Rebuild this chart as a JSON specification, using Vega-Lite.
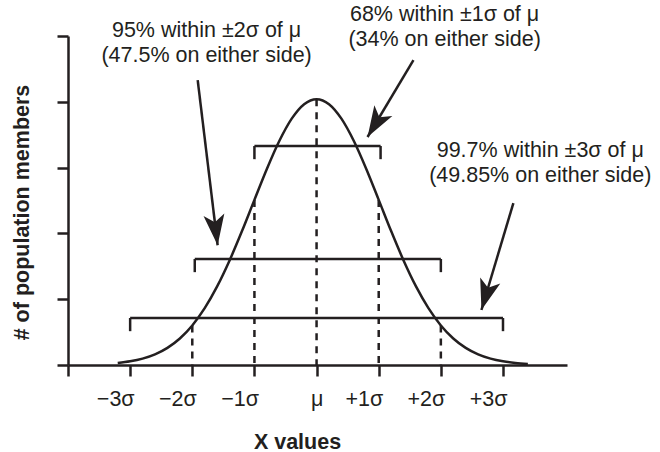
{
  "$schema": "https://vega.github.io/schema/vega-lite/v6.json",
  "width": 499,
  "height": 329,
  "autosize": "none",
  "padding": {"left": 68, "top": 36, "right": 93, "bottom": 87},
  "background": "white",
  "config": {
    "view": {"stroke": null},
    "font": "Liberation Sans",
    "axis": {
      "grid": false,
      "domainColor": "#231f20",
      "tickColor": "#231f20",
      "labelColor": "#231f20",
      "titleColor": "#231f20",
      "domainWidth": 2.5,
      "tickWidth": 2.5,
      "tickSize": 11,
      "labelFont": "Liberation Sans",
      "titleFont": "Liberation Sans",
      "labelFontSize": 21.5,
      "titleFontSize": 21.5,
      "titleFontWeight": "bold"
    }
  },
  "datasets": {
    "curve": [
      {"x": -3.2, "y": 0.0308}, {"x": -3.0, "y": 0.0556}, {"x": -2.8, "y": 0.0966}, {"x": -2.6, "y": 0.1615},
      {"x": -2.4, "y": 0.2601}, {"x": -2.2, "y": 0.4031}, {"x": -2.0, "y": 0.6014}, {"x": -1.8, "y": 0.8637},
      {"x": -1.6, "y": 1.1939}, {"x": -1.4, "y": 1.5887}, {"x": -1.2, "y": 2.035}, {"x": -1.0, "y": 2.5094},
      {"x": -0.8, "y": 2.9787}, {"x": -0.6, "y": 3.4035}, {"x": -0.4, "y": 3.7436}, {"x": -0.2, "y": 3.9638},
      {"x": 0.0, "y": 4.04}, {"x": 0.2, "y": 3.9638}, {"x": 0.4, "y": 3.7436}, {"x": 0.6, "y": 3.4035},
      {"x": 0.8, "y": 2.9787}, {"x": 1.0, "y": 2.5094}, {"x": 1.2, "y": 2.035}, {"x": 1.4, "y": 1.5887},
      {"x": 1.6, "y": 1.1939}, {"x": 1.8, "y": 0.8637}, {"x": 2.0, "y": 0.6014}, {"x": 2.2, "y": 0.4031},
      {"x": 2.4, "y": 0.2601}, {"x": 2.6, "y": 0.1615}, {"x": 2.8, "y": 0.0966}, {"x": 3.0, "y": 0.0556},
      {"x": 3.2, "y": 0.0308}, {"x": 3.4, "y": 0.0164}
    ],
    "dashed": [
      {"x": -2, "top": 0.6014, "bottom": 0},
      {"x": -1, "top": 2.5094, "bottom": 0},
      {"x": 0, "top": 4.04, "bottom": 0},
      {"x": 1, "top": 2.5094, "bottom": 0},
      {"x": 2, "top": 0.6014, "bottom": 0}
    ],
    "segments": [
      {"x": -1, "y": 3.328, "x2": 1.03, "y2": 3.328},
      {"x": -1, "y": 3.328, "x2": -1, "y2": 3.128},
      {"x": 1.03, "y": 3.328, "x2": 1.03, "y2": 3.128},
      {"x": -1.96, "y": 1.611, "x2": 2, "y2": 1.611},
      {"x": -1.96, "y": 1.611, "x2": -1.96, "y2": 1.411},
      {"x": 2, "y": 1.611, "x2": 2, "y2": 1.411},
      {"x": -3, "y": 0.714, "x2": 3, "y2": 0.714},
      {"x": -3, "y": 0.714, "x2": -3, "y2": 0.514},
      {"x": 3, "y": 0.714, "x2": 3, "y2": 0.514},
      {"x": -1.913, "y": 4.33, "x2": -1.592, "y2": 1.82},
      {"x": 1.559, "y": 4.635, "x2": 0.82, "y2": 3.465},
      {"x": 3.167, "y": 2.46, "x2": 2.653, "y2": 0.836}
    ],
    "heads": [
      {"x": -1.592, "y": 1.82, "angle": 173.1},
      {"x": 0.82, "y": 3.465, "angle": 210.9},
      {"x": 2.653, "y": 0.836, "angle": 196.6}
    ],
    "notes": [
      {"x": -1.77, "y": 4.985, "label": "95% within ±2σ of μ\n(47.5% on either side)"},
      {"x": 2.06, "y": 5.228, "label": "68% within ±1σ of μ\n(34% on either side)"},
      {"x": 3.6, "y": 3.161, "label": "99.7% within ±3σ of μ\n(49.85% on either side)"}
    ]
  },
  "layer": [
    {
      "data": {"name": "curve"},
      "mark": {"type": "line", "color": "#231f20", "strokeWidth": 2.5, "interpolate": "monotone"},
      "encoding": {
        "x": {
          "field": "x", "type": "quantitative",
          "scale": {"domain": [-4, 4.03], "nice": false, "zero": false},
          "axis": {
            "values": [-4, -3, -2, -1, 0, 1, 2, 3],
            "labelExpr": "datum.value == -4 ? '' : datum.value == 0 ? 'μ' : datum.value < 0 ? '−' + abs(datum.value) + 'σ' : '+' + datum.value + 'σ'",
            "labelBaseline": "alphabetic",
            "labelPadding": 29,
            "labelAlign": {"condition": {"test": "datum.value == 0", "value": "center"}, "value": "right"},
            "labelOffset": {"condition": {"test": "datum.value == 0", "value": 0}, "value": 4},
            "title": "X values",
            "titleBaseline": "alphabetic",
            "titleAlign": "center",
            "titleX": 229,
            "titleY": 83
          }
        },
        "y": {
          "field": "y", "type": "quantitative",
          "scale": {"domain": [0, 5], "nice": false},
          "axis": {
            "values": [0, 1, 2, 3, 4, 5],
            "labels": false,
            "title": "# of population members",
            "titleBaseline": "alphabetic",
            "titleAlign": "center",
            "titleAngle": 270,
            "titleX": -40,
            "titleY": 176
          }
        }
      }
    },
    {
      "data": {"name": "dashed"},
      "mark": {"type": "rule", "color": "#231f20", "strokeWidth": 2.5, "strokeDash": [7, 6]},
      "encoding": {
        "x": {"field": "x", "type": "quantitative"},
        "y": {"field": "top", "type": "quantitative"},
        "y2": {"field": "bottom"}
      }
    },
    {
      "data": {"name": "segments"},
      "mark": {"type": "rule", "color": "#231f20", "strokeWidth": 2.5},
      "encoding": {
        "x": {"field": "x", "type": "quantitative"},
        "y": {"field": "y", "type": "quantitative"},
        "x2": {"field": "x2"},
        "y2": {"field": "y2"}
      }
    },
    {
      "data": {"name": "heads"},
      "mark": {"type": "point", "shape": "M0,0 L0.34,1 L0,0.75 L-0.34,1 Z", "filled": true, "color": "#231f20", "opacity": 1, "size": 3800, "strokeWidth": 0},
      "encoding": {
        "x": {"field": "x", "type": "quantitative"},
        "y": {"field": "y", "type": "quantitative"},
        "angle": {"field": "angle", "type": "quantitative", "scale": null}
      }
    },
    {
      "data": {"name": "notes"},
      "mark": {"type": "text", "font": "Liberation Sans", "fontSize": 21.5, "color": "#231f20", "align": "center", "baseline": "alphabetic", "lineBreak": "\n", "lineHeight": 25},
      "encoding": {
        "x": {"field": "x", "type": "quantitative"},
        "y": {"field": "y", "type": "quantitative"},
        "text": {"field": "label"}
      }
    }
  ]
}
